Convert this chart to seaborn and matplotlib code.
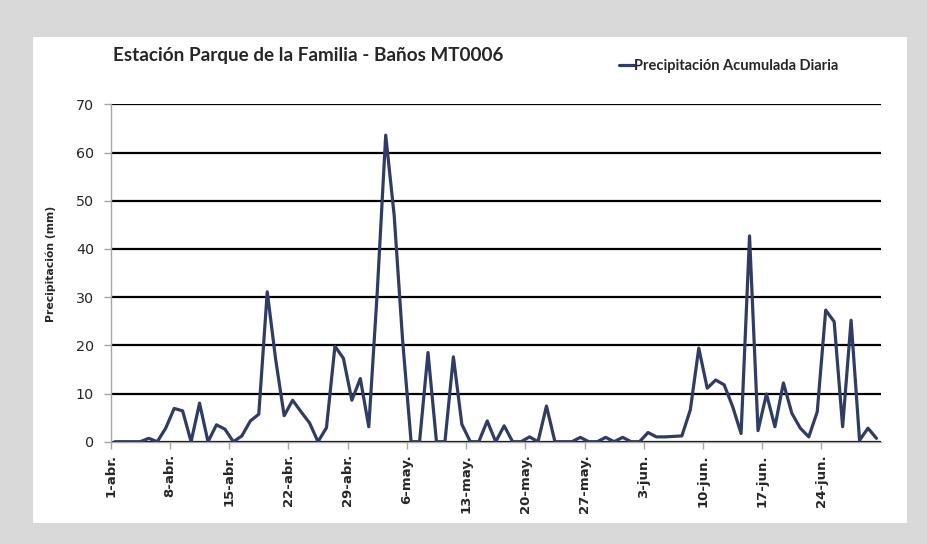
import numpy as np
import pandas as pd
import seaborn as sns
import matplotlib.pyplot as plt
from matplotlib.patches import Rectangle

# Daily accumulated precipitation, 1-abr. .. 30-jun. (mm)
precip_abr = [0, 0, 0, 0, 0.7, 0, 2.8, 6.9, 6.4, 0, 8.0, 0, 3.5, 2.6, 0,
              1.2, 4.3, 5.7, 31.1, 17.0, 5.4, 8.6, 6.2, 3.9, 0, 2.9, 19.8,
              17.3, 8.6, 13.1]
precip_may = [3.1, 31.0, 63.6, 47.0, 21.0, 0, 0, 18.5, 0, 0, 17.6, 3.6, 0, 0,
              4.3, 0, 3.3, 0, 0, 1.0, 0, 7.4, 0, 0, 0, 0.9, 0, 0, 0.9, 0, 0.9]
precip_jun = [0, 0, 1.9, 1.0, 1.0, 1.1, 1.2, 6.6, 19.4, 11.1, 12.8, 11.8, 7.3,
              1.7, 42.7, 2.3, 9.9, 3.1, 12.2, 5.9, 2.8, 1.0, 6.2, 27.3, 24.9,
              3.1, 25.2, 0.3, 2.8, 0.7]
tick_labels = ["1-abr.", "8-abr.", "15-abr.", "22-abr.", "29-abr.", "6-may.",
               "13-may.", "20-may.", "27-may.", "3-jun.", "10-jun.", "17-jun.",
               "24-jun."]

values = precip_abr + precip_may + precip_jun
dates = pd.date_range("2013-04-01", periods=len(values), freq="D")
# Excel draws each day in the middle of its slot
df = pd.DataFrame({"fecha": dates + pd.Timedelta(hours=12), "mm": values})

sns.set_theme(style="white")
plt.rcParams["font.family"] = ["DejaVu Sans"]

W, H = 928, 544
fig = plt.figure(figsize=(W / 100, H / 100), dpi=100)
fig.patch.set_facecolor("#d9d9d9")
fig.patches.append(Rectangle((33 / W, 1 - 523 / H), 874 / W, 486 / H,
                             transform=fig.transFigure, facecolor="white",
                             edgecolor="none", zorder=-5))

ax = fig.add_axes([110.7 / W, 1 - 441.7 / H, 770 / W, 337.4 / H])
ax.set_facecolor("none")
ax.set_zorder(2)

sns.lineplot(data=df, x="fecha", y="mm", ax=ax, color="#2f3d64",
             linewidth=2.3, label="Precipitación Acumulada Diaria",
             legend=False, zorder=3)

ax.set_ylim(0, 70)
ax.set_yticks(range(0, 71, 10))
ax.set_xlim(dates[0], dates[-1] + pd.Timedelta(days=1))
ax.set_xticks(dates[::7])
ax.set_xticklabels(tick_labels, rotation=90, fontsize=9.5, fontweight="bold")
for lab in ax.get_yticklabels():
    lab.set_fontsize(10.3)

ax.grid(axis="y", color="black", linewidth=1.6)
ax.set_axisbelow(True)
for side in ["top", "right"]:
    ax.spines[side].set_visible(False)
for side in ["left", "bottom"]:
    ax.spines[side].set_color("#a6a6a6")
    ax.spines[side].set_linewidth(1)
ax.tick_params(axis="both", which="major", length=5, color="#a6a6a6",
               width=1, direction="out", left=True, bottom=True)
ax.tick_params(axis="y", pad=7)
ax.tick_params(axis="x", pad=4)

ax.set_xlabel("")
ax.set_ylabel("Precipitación (mm)", fontsize=7.8, fontweight="bold", labelpad=14)
ax.yaxis.label.set_y(0.528)

fig.text(113 / W, 1 - 56 / H, "Estación Parque de la Familia - Baños MT0006",
         fontsize=13.6, fontweight="bold", family=["Lato", "DejaVu Sans"],
         va="center", ha="left")
ax.legend(loc="center left", bbox_to_anchor=(619 / W, 1 - 66 / H),
          bbox_transform=fig.transFigure, frameon=False, handlelength=1.0,
          handletextpad=0.05, borderaxespad=0, borderpad=0,
          prop={"family": ["Lato", "DejaVu Sans"], "weight": "bold", "size": 10.5})

fig.savefig("out.png", dpi=100, facecolor=fig.get_facecolor())
